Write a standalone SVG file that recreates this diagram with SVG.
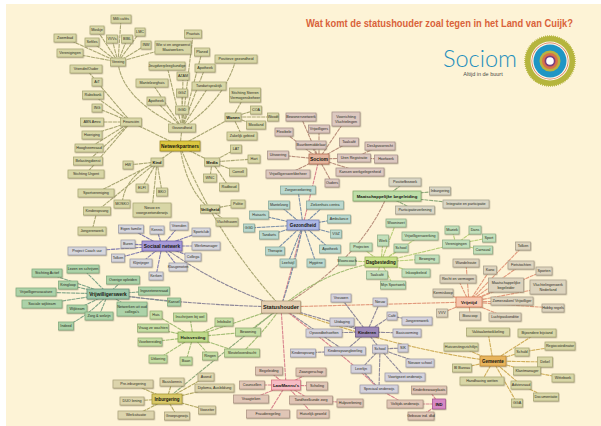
<svg xmlns="http://www.w3.org/2000/svg" width="601" height="426" viewBox="0 0 601 426">
<style>
text{font-family:"Liberation Sans",Arial,sans-serif;font-size:3.7px;fill:#2a2a20;text-anchor:middle}
rect{stroke-width:.7;filter:url(#s)}
.b text{font-weight:bold;font-size:5px;fill:#15150f}
.ol rect{fill:#d8d6a6;stroke:#a8a672}.so rect{fill:#dcc8c0;stroke:#a58f88}.gr rect{fill:#d6d6dc;stroke:#9b9ba6}
.te rect{fill:#bad8ce;stroke:#87a89c}.vw rect{fill:#acd2a8;stroke:#7fa97c}.hu rect{fill:#c4dca2;stroke:#93ac72}
.in rect{fill:#dcd4ac;stroke:#aba27a}.vt rect{fill:#dcd3bd;stroke:#a89f8a}.da rect{fill:#c2dfba;stroke:#8fae87}
.ki rect{fill:#d4d2dc;stroke:#9d9ba8}.la rect{fill:#e0c6b6;stroke:#ac9383}.ma rect{fill:#d8d5c4;stroke:#a5a28f}
#connectors path{fill:none;stroke-width:1.1;stroke-dasharray:4 .7}
.c1{stroke:#a9a673}.c2{stroke:#b98f7c}.c3{stroke:#7f7ab0}.c4{stroke:#7a8fa8}.c5{stroke:#7fa487}.c6{stroke:#a3bd74}
.c7{stroke:#b0a65e}.c8{stroke:#e29a7d}.c9{stroke:#b8ce78}.c10{stroke:#8d8799}.c11{stroke:#d8838d}.c12{stroke:#cfae5a}.c13{stroke:#8ca878}
</style>
<defs><filter id="s" x="-20%" y="-30%" width="140%" height="170%"><feDropShadow dx=".5" dy=".7" stdDeviation=".5" flood-color="#66604a" flood-opacity=".55"/></filter></defs>
<rect width="601" height="426" fill="#ffffff" style="filter:none;stroke:none"/>
<rect x="6" y="4" width="595" height="422" fill="#fdf3d6" style="filter:none;stroke:none"/>
<text x="306" y="27" textLength="267" lengthAdjust="spacingAndGlyphs" style="font-family:'Liberation Sans Narrow','Liberation Sans',sans-serif;font-size:11px;font-weight:bold;fill:#d9623a;text-anchor:start">Wat komt de statushouder zoal tegen in het Land van Cuijk?</text>
<g id="logo">
<circle cx="550" cy="61" r="25" fill="#b5b53d" stroke="#b5b53d" stroke-width="1.500" stroke-dasharray="1 1"/>
<circle cx="550" cy="61" r="19.500" fill="#fdf8ea"/>
<circle cx="550" cy="61" r="18.500" fill="#d9704a"/>
<circle cx="550" cy="61" r="17.800" fill="#fdf8ea"/>
<circle cx="550" cy="61" r="16.500" fill="#1f96c4"/>
<circle cx="550" cy="61" r="10.500" fill="#b9b441"/>
<circle cx="550" cy="61" r="8" fill="#d9704a"/>
<circle cx="550" cy="61" r="5.500" fill="#7a3f7e"/>
<circle cx="550" cy="61" r="3.800" fill="#ffffff"/>
<text x="443" y="67" textLength="74" lengthAdjust="spacingAndGlyphs" style="font-family:Lato,'Open Sans',sans-serif;font-size:23px;font-weight:300;fill:#1f8fbd;text-anchor:start">Sociom</text>
<text x="483" y="76" style="font-size:5.500px;fill:#4a4a48">Altijd in de buurt</text>
</g>
<g id="connectors">
<path class="c1" d="M118 62L121 19M118 62L97 30M118 62L140 32M118 62L65 38M118 62L92 42M118 62L112 39M118 62L127 39M118 62L146 45M118 62L70 53M118 62L173 47"/>
<path class="c1" d="M118 62Q122 100 182 128M182 128L193 34M182 128L202 52M182 128Q225 100 236 59M182 128L205 68M182 128L209 86M182 128L167 66M182 128L183 76M182 128L152 83M182 128L182 93M182 128L156 101M182 128L182 110"/>
<path class="c1" d="M131 122L86 69M131 122L97 82M131 122L93 95M131 122L97 108M131 122L92 122M131 122L93 134M131 122L89 148M131 122L88 161M131 122L86 174"/>
<path class="c1" d="M180 146L182 128M180 146L131 122M180 146L157 162M180 146L212 162M180 146Q186 190 210 209M180 146L233 117"/>
<path class="c1" d="M233 117L245 95M233 117L256 110M233 117L273 117M233 117L256 125M233 117L242 136"/>
<path class="c1" d="M157 162L128 165M157 162L96 193M157 162L97 211M157 162Q125 175 122 204M157 162L142 188M157 162L162 192M157 162L152 210M97 211L92 231"/>
<path class="c1" d="M212 162L236 149M212 162L254 159M212 162L238 172M212 162L229 187M212 162L210 178M210 209L238 204M210 209L227 222"/>
<path class="c1" d="M281 307Q215 235 180 146"/>
<path class="c2" d="M319 159L301 117M319 159L346 119M319 159L319 129M319 159L284 132M319 159L349 142M319 159L311 145M319 159L278 155M319 159L354 158M354 158L380 146M354 158L386 159M319 159L360 172M319 159L288 174M319 159L332 183"/>
<path class="c11" d="M281 307Q300 240 319 159M281 307L286 385"/>
<path class="c4" d="M303 225L298 190M303 225L279 205M303 225L325 205M303 225L259 215M303 225L339 219M303 225L249 228M303 225L269 235M303 225L336 234M303 225L275 251M303 225L330 249M303 225L288 263M303 225L316 263M281 307Q295 265 303 225"/>
<path class="c3" d="M162 246L131 229M162 246L157 230M162 246L179 226M162 246L201 232M162 246L206 246M162 246L128 244M162 246L87 251M162 246L118 258M162 246L193 257M162 246L141 263M162 246L178 267M162 246L156 276"/>
<path class="c10" d="M281 307Q215 285 162 246"/>
<path class="c5" d="M108 294L83 269M108 294L47 273M108 294L68 285M108 294L36 292M108 294L42 304M108 294L77 309M108 294L99 316M108 294Q90 315 66 326M108 294L123 280M108 294L154 291M108 294L174 302M108 294L132 309"/>
<path class="c10" d="M281 307Q190 305 108 294"/>
<path class="c6" d="M193 337L156 315M193 337L190 317M193 337L224 322M193 337L153 328M193 337L150 342M193 337L158 359M193 337L186 361M193 337L210 356M193 337L248 332M193 337L242 353M281 307L193 337M281 307L248 332M242 353Q270 325 281 307"/>
<path class="c7" d="M167 399L172 382M167 399L133 384M167 399L206 377M167 399L214 388M167 399L132 401M167 399L207 410M167 399L136 415M167 399L177 416"/>
<path class="c13" d="M167 399Q220 355 281 307"/>
<path class="c2" d="M387 196Q360 260 281 307"/>
<path class="c13" d="M387 196L405 182M387 196L440 191M387 196L466 204M387 196L415 210"/>
<path class="c9" d="M381 262L396 223M381 262L420 236M381 262L383 241M381 262L401 248M381 262L361 247M381 262L347 261M381 262L427 259M381 262L416 273M381 262L377 275M381 262L393 285M381 262L456 244M456 244L452 230M456 244L475 230M456 244L489 238M456 244L483 250"/>
<path class="c6" d="M381 262Q325 270 281 307"/>
<path class="c8" d="M281 307L469 302M469 302L523 246M469 302L466 263M469 302L490 270M469 302L521 265M469 302L544 271M469 302L458 279M469 302L506 285M469 302L548 287M469 302L443 293M469 302L512 301M469 302L553 308M469 302L442 313M469 302L470 316M469 302L505 317"/>
<path class="c12" d="M493 361L488 332M493 361L537 333M493 361L461 347M493 361L522 352M522 352L560 346M493 361L545 362M493 361L462 368M493 361L527 371M527 371L563 378M493 361L482 381M493 361L521 385M521 385L546 397M493 361L517 403"/>
<path class="c12" d="M281 307Q400 350 493 361"/>
<path class="c10" d="M367 332L341 298M367 332L380 302M367 332L342 322M367 332L324 333M367 332L391 316M391 316L417 321M367 332L407 333M367 332L345 351M345 351L303 353M367 332L380 349M380 349L403 348M380 349L420 363M380 349L361 369M361 369L379 389M380 349L405 377M380 349L379 389M281 307L367 332M281 307L345 351"/>
<path class="c11" d="M286 385L269 371M286 385L311 372M286 385L252 385M286 385L317 386M286 385L251 399M286 385L311 400M286 385L268 414M286 385L313 414M311 400L350 403M379 389L405 404M439 404L429 390M439 404L405 404M439 404L421 416M281 307Q350 360 379 389"/>
</g>
<g class="ol">
<g id="milli-cafes"><rect x="111" y="15" width="20" height="8"/><text x="121" y="20.300">Milli cafés</text></g>
<g id="moskee"><rect x="90" y="26" width="14" height="8"/><text x="97" y="31.300">Moskje</text></g>
<g id="lmc"><rect x="135" y="28" width="10" height="8"/><text x="140" y="33.300">LMC</text></g>
<g id="zwembad"><rect x="54" y="34" width="22" height="8"/><text x="65" y="39.300">Zwembad</text></g>
<g id="sefiles"><rect x="85" y="38" width="14" height="8"/><text x="92" y="43.300">Sefiles</text></g>
<g id="vvvs"><rect x="106.500" y="35" width="11" height="8"/><text x="112" y="40.300">VVVs</text></g>
<g id="bibl"><rect x="121.500" y="35" width="11" height="8"/><text x="127" y="40.300">BIBL</text></g>
<g id="inw"><rect x="141" y="41" width="10" height="8"/><text x="146" y="46.300">INW</text></g>
<g id="verenigingen-a"><rect x="57" y="49" width="26" height="8"/><text x="70" y="54.300">Verenigingen</text></g>
<g id="vereing"><rect x="110.500" y="58" width="15" height="8"/><text x="118" y="63.300">Vereing</text></g>
<g id="maatwerkers"><rect x="155" y="41" width="36" height="13"/><text x="173" y="46.300">Wie vi en ongewenst</text><text x="173" y="51">Maatwerkers</text></g>
<g id="praxtuis"><rect x="184.500" y="30" width="17" height="8"/><text x="193" y="35.300">Praxtuis</text></g>
<g id="planed"><rect x="194.500" y="48" width="15" height="8"/><text x="202" y="53.300">Planed</text></g>
<g id="positieve"><rect x="215" y="55" width="42" height="8"/><text x="236" y="60.300">Positieve gezondheid</text></g>
<g id="apotheek-a"><rect x="195" y="64" width="20" height="8"/><text x="205" y="69.300">Apotheek</text></g>
<g id="tandarts-a"><rect x="192" y="82" width="34" height="8"/><text x="209" y="87.300">Tandartspraktijk</text></g>
<g id="jeugdverpl"><rect x="149" y="62" width="36" height="8"/><text x="167" y="67.300">Jeugdverpleegkundige</text></g>
<g id="azam"><rect x="177" y="72" width="12" height="8"/><text x="183" y="77.300">AZAM</text></g>
<g id="mantelzorghuis"><rect x="136" y="79" width="32" height="8"/><text x="152" y="84.300">Mantelzorghuis</text></g>
<g id="ggz"><rect x="176.500" y="89" width="11" height="8"/><text x="182" y="94.300">GGZ</text></g>
<g id="apotheek-b"><rect x="147" y="97" width="18" height="8"/><text x="156" y="102.300">Apotheek</text></g>
<g id="ggd-a"><rect x="175.500" y="106" width="13" height="8"/><text x="182" y="111.300">GGD</text></g>
<g id="gezondheid"><rect x="168.500" y="124" width="27" height="8"/><text x="182" y="129.300">Gezondheid</text></g>
<g id="financien"><rect x="120.500" y="118" width="21" height="8"/><text x="131" y="123.300">Financiën</text></g>
<g id="vriendin"><rect x="70" y="65" width="32" height="8"/><text x="86" y="70.300">Vriendin/Ouder</text></g>
<g id="ait"><rect x="92" y="78" width="10" height="8"/><text x="97" y="83.300">AiT</text></g>
<g id="rabobank"><rect x="82.500" y="91" width="21" height="8"/><text x="93" y="96.300">Rabobank</text></g>
<g id="ing"><rect x="92" y="104" width="10" height="8"/><text x="97" y="109.300">ING</text></g>
<g id="abn"><rect x="80.500" y="118" width="23" height="8"/><text x="92" y="123.300">ABN Amro</text></g>
<g id="hoerglong"><rect x="82" y="131" width="20" height="8"/><text x="92" y="136.300">Hoeriging</text></g>
<g id="hoogheemraad"><rect x="75" y="144" width="28" height="8"/><text x="89" y="149.300">Hoogheemraad</text></g>
<g id="belastingdienst"><rect x="73.500" y="157" width="29" height="8"/><text x="88" y="162.300">Belastingdienst</text></g>
<g id="stichting-urgent"><rect x="68" y="170" width="36" height="8"/><text x="86" y="175.300">Stichting Urgent</text></g>
<g id="hw"><rect x="123" y="161" width="10" height="8"/><text x="128" y="166.300">HW</text></g>
<g id="sportvereniging"><rect x="78" y="189" width="36" height="8"/><text x="96" y="194.300">Sportvereniging</text></g>
<g id="kinderopvang-a"><rect x="83.500" y="207" width="27" height="8"/><text x="97" y="212.300">Kinderopvang</text></g>
<g id="mosko"><rect x="114" y="200" width="16" height="8"/><text x="122" y="205.300">MOSKO</text></g>
<g id="elfi"><rect x="136" y="184" width="12" height="8"/><text x="142" y="189.300">ELFI</text></g>
<g id="bko"><rect x="156.500" y="188" width="11" height="8"/><text x="162" y="193.300">BKO</text></g>
<g id="voortgezet-a"><rect x="133" y="203" width="38" height="14"/><text x="152" y="208.800">Nieuw en</text><text x="152" y="213.500">voorgezetonderwijs</text></g>
<g id="jongerenwerk-a"><rect x="78" y="227" width="28" height="8"/><text x="92" y="232.300">Jongerenwerk</text></g>
<g id="stichting-sterren"><rect x="229.500" y="88" width="31" height="14"/><text x="245" y="93.800">Stichting Sterren</text><text x="245" y="98.500">Vermogensbeheer</text></g>
<g id="coa"><rect x="250.500" y="106" width="11" height="8"/><text x="256" y="111.300">COA</text></g>
<g id="woodt"><rect x="267.500" y="113" width="11" height="8"/><text x="273" y="118.300">Woodt</text></g>
<g id="mooiland"><rect x="246.500" y="121" width="19" height="8"/><text x="256" y="126.300">Mooiland</text></g>
<g id="zakelijk"><rect x="227" y="132" width="30" height="8"/><text x="242" y="137.300">Zakelijk gebied</text></g>
<g id="lat"><rect x="230.500" y="145" width="11" height="8"/><text x="236" y="150.300">LAT</text></g>
<g id="hart"><rect x="248" y="155" width="12" height="8"/><text x="254" y="160.300">Hart</text></g>
<g id="cornell"><rect x="229.500" y="168" width="17" height="8"/><text x="238" y="173.300">Cornell</text></g>
<g id="radboud"><rect x="219.500" y="183" width="19" height="8"/><text x="229" y="188.300">Radboud</text></g>
<g id="wnc"><rect x="203.500" y="174" width="13" height="8"/><text x="210" y="179.300">WNC</text></g>
<g id="politie"><rect x="231" y="200" width="14" height="8"/><text x="238" y="205.300">Politie</text></g>
<g id="vluchthaven"><rect x="216" y="218" width="22" height="8"/><text x="227" y="223.300">Vluchthaven</text></g>
</g>
<g class="b ol">
<g id="wonen-hub"><rect x="225" y="113" width="16" height="8"/><text x="233" y="118.700" style="font-size:4px">Wonen</text></g>
<g id="kind"><rect x="151" y="158" width="12" height="8"/><text x="157" y="163.700" style="font-size:4px">Kind</text></g>
<g id="media"><rect x="204.500" y="158" width="15" height="8"/><text x="212" y="163.700" style="font-size:4px">Media</text></g>
<g id="veiligheid"><rect x="200.500" y="205" width="19" height="8"/><text x="210" y="210.700" style="font-size:4px">Veiligheid</text></g>
<g id="netwerkpartners"><rect x="160" y="141" width="40" height="10" style="fill:#dcc640;stroke:#a08c1e"/><text x="180" y="147.700" style="font-size:4.800px">Netwerkpartners</text></g>
</g>
<g class="so">
<g id="bewoners"><rect x="286" y="113" width="30" height="8"/><text x="301" y="118.300">Bewonersnetwerk</text></g>
<g id="voorrichting"><rect x="332" y="112" width="28" height="14"/><text x="346" y="117.800">Voorrichting</text><text x="346" y="122.500">Vluchtelingen</text></g>
<g id="vrijwilligers-b"><rect x="308.500" y="125" width="21" height="8"/><text x="319" y="130.300">Vrijwilligers</text></g>
<g id="flexibele"><rect x="275" y="128" width="18" height="8"/><text x="284" y="133.300">Flexibele</text></g>
<g id="taalcafe"><rect x="339.500" y="138" width="19" height="8"/><text x="349" y="143.300">Taalcafé</text></g>
<g id="buurtbem"><rect x="296" y="141" width="30" height="8"/><text x="311" y="146.300">Buurtbemiddelaar</text></g>
<g id="uitvoering"><rect x="267.500" y="151" width="21" height="8"/><text x="278" y="156.300">Uitvoering</text></g>
<g id="uren"><rect x="337.500" y="154" width="33" height="8"/><text x="354" y="159.300">Uren Registratie</text></g>
<g id="desk"><rect x="365" y="142" width="30" height="8"/><text x="380" y="147.300">Deskpvoorrecht</text></g>
<g id="hoefwerk"><rect x="374.500" y="155" width="23" height="8"/><text x="386" y="160.300">Hoefwerk</text></g>
<g id="kansen"><rect x="336" y="168" width="48" height="8"/><text x="360" y="173.300">Kansen werkgelegenheid</text></g>
<g id="vrijwbeheer"><rect x="266" y="170" width="44" height="8"/><text x="288" y="175.300">Vrijwilligerswerkbeheer</text></g>
<g id="ouders"><rect x="325" y="179" width="14" height="8"/><text x="332" y="184.300">Ouders</text></g>
</g>
<g class="b so"><g id="sociom"><rect x="309" y="154" width="20" height="10" style="fill:#e3b49c;stroke:#b0654a"/><text x="319" y="160.700">Sociom</text></g></g>
<g class="te">
<g id="zorgverzekering"><rect x="280.500" y="186" width="35" height="8"/><text x="298" y="191.300">Zorgverzekering</text></g>
<g id="mantelzorg"><rect x="268.500" y="201" width="21" height="8"/><text x="279" y="206.300">Mantelzorg</text></g>
<g id="ziekenhuis"><rect x="306.500" y="201" width="37" height="8"/><text x="325" y="206.300">Ziekenhuis centra</text></g>
<g id="huisarts"><rect x="249.500" y="211" width="19" height="8"/><text x="259" y="216.300">Huisarts</text></g>
<g id="ambulance"><rect x="327.500" y="215" width="23" height="8"/><text x="339" y="220.300">Ambulance</text></g>
<g id="ggd-b"><rect x="243.500" y="224" width="11" height="8"/><text x="249" y="229.300">GGD</text></g>
<g id="tandarts"><rect x="259.500" y="231" width="19" height="8"/><text x="269" y="236.300">Tandarts</text></g>
<g id="vgz"><rect x="330.500" y="230" width="11" height="8"/><text x="336" y="235.300">VGZ</text></g>
<g id="therapie"><rect x="265.500" y="247" width="19" height="8"/><text x="275" y="252.300">Therapie</text></g>
<g id="apotheek-c"><rect x="319.500" y="245" width="21" height="8"/><text x="330" y="250.300">Apotheek</text></g>
<g id="leefstijl"><rect x="280" y="259" width="16" height="8"/><text x="288" y="264.300">Leefstijl</text></g>
<g id="hygiene"><rect x="307" y="259" width="18" height="8"/><text x="316" y="264.300">Hygiëne</text></g>
</g>
<g class="b te"><g id="gezondheid-hub"><rect x="287" y="220" width="32" height="10" style="fill:#aab6e4;stroke:#6d78b0"/><text x="303" y="226.700" style="font-size:4.600px">Gezondheid</text></g></g>
<g class="ma">
<g id="positiefbezoek"><rect x="389" y="178" width="32" height="8"/><text x="405" y="183.300">Positiefbezoek</text></g>
<g id="inburgering-b"><rect x="429.500" y="187" width="21" height="8"/><text x="440" y="192.300">Inburgering</text></g>
<g id="integratie"><rect x="443" y="200" width="46" height="8"/><text x="466" y="205.300">Integratie en participatie</text></g>
<g id="participatie"><rect x="395.500" y="206" width="39" height="8"/><text x="415" y="211.300">Participatieverlening</text></g>
</g>
<g class="b ma"><g id="maatschappelijk"><rect x="353" y="191" width="68" height="10" style="fill:#bddea8;stroke:#7fa868"/><text x="387" y="197.700" style="font-size:4.300px">Maatschappelijke begeleiding</text></g></g>
<g class="da">
<g id="wooninzet"><rect x="386" y="219" width="20" height="8"/><text x="396" y="224.300">Wooninzet</text></g>
<g id="vrijwwerking"><rect x="402" y="232" width="36" height="8"/><text x="420" y="237.300">Vrijwilligerswerking</text></g>
<g id="werk"><rect x="377.500" y="235" width="11" height="11"/><text x="383" y="242">Werk</text></g>
<g id="school-a"><rect x="394" y="244" width="14" height="8"/><text x="401" y="249.300">School</text></g>
<g id="projecten"><rect x="350" y="243" width="22" height="8"/><text x="361" y="248.300">Projecten</text></g>
<g id="wooncoach"><rect x="338.500" y="257" width="17" height="8"/><text x="347" y="262.300">Wooncoach</text></g>
<g id="beweging"><rect x="415" y="255" width="24" height="8"/><text x="427" y="260.300">Beweging</text></g>
<g id="inkoopbeleid"><rect x="402" y="269" width="28" height="8"/><text x="416" y="274.300">Inkoopbeleid</text></g>
<g id="taalcafe-b"><rect x="366.500" y="271" width="21" height="8"/><text x="377" y="276.300">Taalcafé</text></g>
<g id="sportwerk"><rect x="380.500" y="281" width="25" height="8"/><text x="393" y="286.300">Mijn Sportwerk</text></g>
<g id="verenigingen"><rect x="442.500" y="240" width="27" height="8"/><text x="456" y="245.300">Verenigingen</text></g>
<g id="muziek"><rect x="445" y="226" width="14" height="8"/><text x="452" y="231.300">Muziek</text></g>
<g id="dans"><rect x="469" y="226" width="12" height="8"/><text x="475" y="231.300">Dans</text></g>
<g id="sport"><rect x="482.500" y="234" width="13" height="8"/><text x="489" y="239.300">Sport</text></g>
<g id="carnaval"><rect x="473.500" y="246" width="19" height="8"/><text x="483" y="251.300">Carnaval</text></g>
</g>
<g class="b da"><g id="dagbesteding"><rect x="365" y="257" width="32" height="10" style="fill:#c8e088;stroke:#8eab4c"/><text x="381" y="263.700" style="font-size:4.500px">Dagbesteding</text></g></g>
<g class="vt">
<g id="tolken"><rect x="515.500" y="242" width="15" height="8"/><text x="523" y="247.300">Tolken</text></g>
<g id="wandelroute"><rect x="453" y="259" width="26" height="8"/><text x="466" y="264.300">Wandelroute</text></g>
<g id="kano"><rect x="483.500" y="266" width="13" height="8"/><text x="490" y="271.300">Kano</text></g>
<g id="fietstochten"><rect x="508" y="261" width="26" height="8"/><text x="521" y="266.300">Fietstochten</text></g>
<g id="sporten"><rect x="536" y="267" width="16" height="8"/><text x="544" y="272.300">Sporten</text></g>
<g id="recht"><rect x="440" y="275" width="36" height="8"/><text x="458" y="280.300">Recht en vermogen</text></g>
<g id="maatsch-beg"><rect x="488.500" y="278" width="35" height="14"/><text x="506" y="283.800">Maatschappelijke</text><text x="506" y="288.500">begeleider</text></g>
<g id="vluchtelingenwerk"><rect x="530" y="280" width="36" height="14"/><text x="548" y="285.800">Vluchtelingenwerk</text><text x="548" y="290.500">Nederland</text></g>
<g id="kermis"><rect x="433" y="289" width="20" height="8"/><text x="443" y="294.300">Kermiskoop</text></g>
<g id="zomerzaken"><rect x="491" y="297" width="42" height="8"/><text x="512" y="302.300">Zomerzaken/ Vrijwilliger</text></g>
<g id="hobby"><rect x="542" y="304" width="22" height="8"/><text x="553" y="309.300">Hobby regels</text></g>
<g id="vvv"><rect x="436.500" y="309" width="11" height="8"/><text x="442" y="314.300">VVV</text></g>
<g id="bioscoop"><rect x="459.500" y="312" width="21" height="8"/><text x="470" y="317.300">Bioscoop</text></g>
<g id="luchtpas"><rect x="489" y="313" width="32" height="8"/><text x="505" y="318.300">Luchtpaskonditie</text></g>
</g>
<g class="b vt"><g id="vrijetijd"><rect x="456" y="297" width="26" height="10" style="fill:#f6c6ae;stroke:#d8714c"/><text x="469" y="303.700" style="font-size:4.400px">Vrijetijd</text></g></g>
<g class="ol">
<g id="vaktaal"><rect x="466.500" y="328" width="43" height="8"/><text x="488" y="333.300">Vaktaalontwikkeling</text></g>
<g id="bijstand"><rect x="518" y="329" width="38" height="8"/><text x="537" y="334.300">Bijzondere bijstand</text></g>
<g id="huisvesting"><rect x="444" y="343" width="34" height="8"/><text x="461" y="348.300">Huisvestingsrichtlijn</text></g>
<g id="regio"><rect x="545" y="342" width="30" height="8"/><text x="560" y="347.300">Regiocoördinator</text></g>
<g id="schuld"><rect x="515" y="348" width="14" height="8"/><text x="522" y="353.300">Schuld</text></g>
<g id="dekel"><rect x="537.500" y="357" width="15" height="10"/><text x="545" y="363.300">Dekel</text></g>
<g id="bureau"><rect x="452.500" y="364" width="19" height="8"/><text x="462" y="369.300">Bl Bureau</text></g>
<g id="klantmanager"><rect x="513.500" y="367" width="27" height="8"/><text x="527" y="372.300">Klantmanager</text></g>
<g id="witteboek"><rect x="552" y="374" width="22" height="8"/><text x="563" y="379.300">Witteboek</text></g>
<g id="handhaving"><rect x="460" y="377" width="44" height="8"/><text x="482" y="382.300">Handhaving wetten</text></g>
<g id="adviesraad"><rect x="511" y="381" width="20" height="8"/><text x="521" y="386.300">Adviesraad</text></g>
<g id="documentatie"><rect x="533.500" y="393" width="25" height="8"/><text x="546" y="398.300">Documentatie</text></g>
<g id="gga"><rect x="511.500" y="399" width="11" height="8"/><text x="517" y="404.300">GGA</text></g>
</g>
<g class="b ol"><g id="gemeente"><rect x="480" y="356" width="26" height="10" style="fill:#e8b45c;stroke:#b98432"/><text x="493" y="362.700" style="font-size:4.500px">Gemeente</text></g></g>
<g class="gr">
<g id="eigen-familie"><rect x="118.500" y="225" width="25" height="8"/><text x="131" y="230.300">Eigen familie</text></g>
<g id="kennis"><rect x="150" y="226" width="14" height="8"/><text x="157" y="231.300">Kennis</text></g>
<g id="vrienden"><rect x="170" y="222" width="18" height="8"/><text x="179" y="227.300">Vrienden</text></g>
<g id="sportclub"><rect x="192" y="228" width="18" height="8"/><text x="201" y="233.300">Sportclub</text></g>
<g id="werkmanager"><rect x="192" y="242" width="28" height="8"/><text x="206" y="247.300">Werkmanager</text></g>
<g id="buren"><rect x="121" y="240" width="14" height="8"/><text x="128" y="245.300">Buren</text></g>
<g id="project-coach"><rect x="68" y="247" width="38" height="8"/><text x="87" y="252.300">Project Coach uur</text></g>
<g id="tolken-a"><rect x="111.500" y="254" width="13" height="8"/><text x="118" y="259.300">Tolken</text></g>
<g id="collega"><rect x="185" y="253" width="16" height="8"/><text x="193" y="258.300">Collega</text></g>
<g id="klijntjeger"><rect x="130" y="259" width="22" height="8"/><text x="141" y="264.300">Klijntjeger</text></g>
<g id="klasgenoten"><rect x="169" y="263" width="18" height="8"/><text x="178" y="268.300">Klasgenoten</text></g>
<g id="kerken"><rect x="149" y="272" width="14" height="8"/><text x="156" y="277.300">Kerken</text></g>
</g>
<g class="b gr"><g id="sociaal-netwerk"><rect x="142" y="241" width="40" height="10" style="fill:#a79ad8;stroke:#6a5ca8"/><text x="162" y="247.700" style="font-size:4.800px">Sociaal netwerk</text></g></g>
<g class="vw">
<g id="lezen"><rect x="67" y="265" width="32" height="8"/><text x="83" y="270.300">Lezen en schrijven</text></g>
<g id="stichting-actief"><rect x="32" y="269" width="30" height="8"/><text x="47" y="274.300">Stichting Actief</text></g>
<g id="kringloop"><rect x="58.500" y="281" width="19" height="8"/><text x="68" y="286.300">Kringloop</text></g>
<g id="vacature"><rect x="16" y="288" width="40" height="8"/><text x="36" y="293.300">Vrijwilligersvacature</text></g>
<g id="wijkteam-s"><rect x="22" y="300" width="40" height="8"/><text x="42" y="305.300">Sociale wijkteam</text></g>
<g id="wijkteam"><rect x="67" y="305" width="20" height="8"/><text x="77" y="310.300">Wijkteam</text></g>
<g id="zorg-welzijn"><rect x="85" y="312" width="28" height="8"/><text x="99" y="317.300">Zorg &amp; welzijn</text></g>
<g id="indeed"><rect x="58.500" y="322" width="15" height="8"/><text x="66" y="327.300">Indeed</text></g>
<g id="overige"><rect x="106.500" y="276" width="33" height="8"/><text x="123" y="281.300">Overige opleiden</text></g>
<g id="ingezetenen"><rect x="138.500" y="287" width="31" height="8"/><text x="154" y="292.300">Ingezetenenraad</text></g>
<g id="kansel"><rect x="167.500" y="298" width="13" height="8"/><text x="174" y="303.300">Kansel</text></g>
<g id="netwerken"><rect x="117" y="302" width="30" height="14"/><text x="132" y="307.800">Netwerken uit oud</text><text x="132" y="312.500">collega's</text></g>
</g>
<g class="b vw"><g id="vrijwilligerswerk"><rect x="87" y="289" width="42" height="10" style="fill:#9dc6a8;stroke:#64907a"/><text x="108" y="295.700" style="font-size:4.800px">Vrijwilligerswerk</text></g></g>
<g class="hu">
<g id="huis"><rect x="150" y="311" width="12" height="8"/><text x="156" y="316.300">Huis</text></g>
<g id="inschrijven"><rect x="173.500" y="313" width="33" height="8"/><text x="190" y="318.300">Inschrijven bij wel</text></g>
<g id="infobalie"><rect x="215" y="318" width="18" height="8"/><text x="224" y="323.300">Infobalie</text></g>
<g id="vraag"><rect x="137.500" y="324" width="31" height="8"/><text x="153" y="329.300">Vraag ze wachten</text></g>
<g id="voorbereiding"><rect x="138" y="338" width="24" height="8"/><text x="150" y="343.300">Voorbereiding</text></g>
<g id="uitkering"><rect x="149" y="355" width="18" height="8"/><text x="158" y="360.300">Uitkering</text></g>
<g id="baan"><rect x="180" y="357" width="12" height="8"/><text x="186" y="362.300">Baan</text></g>
<g id="ringen"><rect x="202.500" y="352" width="15" height="8"/><text x="210" y="357.300">Ringen</text></g>
<g id="bewoning"><rect x="235.500" y="328" width="25" height="8"/><text x="248" y="333.300">Bewoning</text></g>
<g id="sleutel"><rect x="224.500" y="349" width="35" height="8"/><text x="242" y="354.300">Sleuteloverdracht</text></g>
</g>
<g class="b hu"><g id="huisvesting-hub"><rect x="178" y="332" width="30" height="10" style="fill:#bfd98a;stroke:#86a84a"/><text x="193" y="338.700" style="font-size:4.400px">Huisvesting</text></g></g>
<g class="in">
<g id="basiskennis"><rect x="160" y="378" width="24" height="8"/><text x="172" y="383.300">Basiskennis</text></g>
<g id="pre-inburgering"><rect x="113" y="380" width="40" height="8"/><text x="133" y="385.300">Pre-inburgering</text></g>
<g id="avond"><rect x="198" y="373" width="16" height="8"/><text x="206" y="378.300">Avond</text></g>
<g id="diploma"><rect x="195" y="384" width="39" height="8"/><text x="214.500" y="389.300">Diploma, Ausbildung</text></g>
<g id="duo"><rect x="120" y="397" width="24" height="8"/><text x="132" y="402.300">DUO lening</text></g>
<g id="voorziter"><rect x="198.500" y="406" width="17" height="8"/><text x="207" y="411.300">Voorziter</text></g>
<g id="werksituatie"><rect x="118" y="411" width="36" height="8"/><text x="136" y="416.300">Werksituatie</text></g>
<g id="groepsgewijs"><rect x="164.500" y="412" width="25" height="8"/><text x="177" y="417.300">Groepsgewijs</text></g>
</g>
<g class="b in"><g id="inburgering"><rect x="152" y="394" width="30" height="10" style="fill:#d8c868;stroke:#a4942e"/><text x="167" y="400.700" style="font-size:4.500px">Inburgering</text></g></g>
<g class="ki">
<g id="vrouwen"><rect x="331" y="294" width="20" height="8"/><text x="341" y="299.300">Vrouwen</text></g>
<g id="nieuw"><rect x="373" y="298" width="14" height="8"/><text x="380" y="303.300">Nieuw</text></g>
<g id="uitdaging"><rect x="330" y="318" width="24" height="8"/><text x="342" y="323.300">Uitdaging</text></g>
<g id="opvoed"><rect x="306" y="329" width="36" height="8"/><text x="324" y="334.300">Opvoedbehoeften</text></g>
<g id="cafe"><rect x="387" y="312" width="10" height="8"/><text x="392" y="317.300">Café</text></g>
<g id="jongerenwerk-b"><rect x="402" y="317" width="30" height="8"/><text x="417" y="322.300">Jongerenwerk</text></g>
<g id="basisvorming"><rect x="393" y="329" width="28" height="8"/><text x="407" y="334.300">Basisvorming</text></g>
<g id="leerling"><rect x="324.500" y="347" width="41" height="8"/><text x="345" y="352.300">Kinderopvangleerling</text></g>
<g id="kinderopvang-b"><rect x="290.500" y="349" width="25" height="8"/><text x="303" y="354.300">Kinderopvang</text></g>
<g id="school-b"><rect x="372.500" y="345" width="15" height="8"/><text x="380" y="350.300">School</text></g>
<g id="sik"><rect x="398" y="344" width="10" height="8"/><text x="403" y="349.300">SIK</text></g>
<g id="nieuwe-school"><rect x="406" y="359" width="28" height="8"/><text x="420" y="364.300">Nieuwe school</text></g>
<g id="leerlijn"><rect x="351" y="365" width="20" height="8"/><text x="361" y="370.300">Leerlijn</text></g>
<g id="speciaal"><rect x="360" y="385" width="38" height="8"/><text x="379" y="390.300">Speciaal onderwijs</text></g>
<g id="voortgezet"><rect x="385" y="373" width="40" height="8"/><text x="405" y="378.300">Voortgezet onderwijs</text></g>
</g>
<g class="b ki"><g id="kinderen"><rect x="355.500" y="327" width="23" height="10" style="fill:#9c88b8;stroke:#695388"/><text x="367" y="333.700" style="font-size:4.200px">Kinderen</text></g></g>
<g class="la">
<g id="begeleiding"><rect x="255.500" y="367" width="27" height="8"/><text x="269" y="372.300">Begeleiding</text></g>
<g id="zwangerschap"><rect x="296" y="368" width="30" height="8"/><text x="311" y="373.300">Zwangerschap</text></g>
<g id="counsellen"><rect x="239.500" y="381" width="25" height="8"/><text x="252" y="386.300">Counsellen</text></g>
<g id="scholing"><rect x="306.500" y="382" width="21" height="8"/><text x="317" y="387.300">Scholing</text></g>
<g id="vraagteken"><rect x="233.500" y="395" width="35" height="8"/><text x="251" y="400.300">Vraagteken</text></g>
<g id="tandheelkunde"><rect x="289.500" y="396" width="43" height="8"/><text x="311" y="401.300">Tandheelkunde zorg</text></g>
<g id="hulpverlening"><rect x="337" y="399" width="26" height="8"/><text x="350" y="404.300">Hulpverlening</text></g>
<g id="fraude"><rect x="246.500" y="410" width="43" height="8"/><text x="268" y="415.300">Frauderegeling</text></g>
<g id="huiselijk"><rect x="297" y="410" width="32" height="8"/><text x="313" y="415.300">Huiselijk geweld</text></g>
<g id="voltijds"><rect x="387" y="400" width="36" height="8"/><text x="405" y="405.300">Voltijds onderwijs</text></g>
<g id="kinderbew"><rect x="411.500" y="386" width="35" height="8"/><text x="429" y="391.300">Kinderbewaarplaats</text></g>
<g id="gebouw"><rect x="408" y="412" width="26" height="8"/><text x="421" y="417.300">Gebouw ind. dkd</text></g>
</g>
<g class="b la">
<g id="lawmannus"><rect x="271.500" y="380" width="29" height="10" style="fill:#f6bcc4;stroke:#d9707e"/><text x="286" y="386.700" style="font-size:4.400px">LawMannu's</text></g>
<g id="ind"><rect x="432.500" y="399" width="13" height="10" style="fill:#d688c4;stroke:#a4508e"/><text x="439" y="405.700" style="font-size:4.200px">IND</text></g>
</g>
<g class="b vt"><g id="statushouder"><rect x="261.500" y="301" width="39" height="12" style="fill:#e4cfb2;stroke:#b09878"/><text x="281" y="309" style="font-size:5.600px">Statushouder</text></g></g>
</svg>
